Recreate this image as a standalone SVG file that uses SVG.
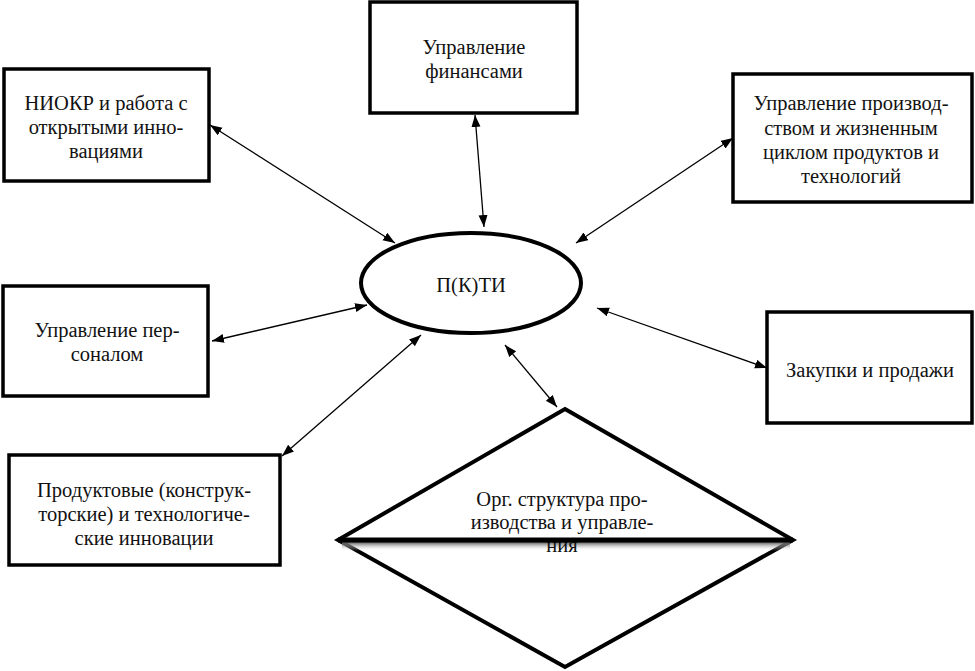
<svg xmlns="http://www.w3.org/2000/svg" width="975" height="671" viewBox="0 0 975 671">
<style>
.box{fill:#fff;stroke:#000;stroke-width:3.5}
.shape{fill:#fff;stroke:#000;stroke-width:4}
.t{font-family:"Liberation Serif","Times New Roman","DejaVu Serif",serif;font-size:20.5px;fill:#111;text-anchor:middle}
.con{stroke:#000;stroke-width:1.3;fill:none;marker-start:url(#ah);marker-end:url(#ah)}
</style>
<defs>
<marker id="ah" markerUnits="userSpaceOnUse" markerWidth="13" markerHeight="10" refX="12" refY="4.5" orient="auto-start-reverse" viewBox="0 0 13 10">
<path d="M0,0 L12,4.5 L0,9 z" fill="#000"/>
</marker>
<linearGradient id="sh" x1="0" y1="0" x2="0" y2="1">
<stop offset="0" stop-color="#555"/>
<stop offset="1" stop-color="#fff" stop-opacity="0"/>
</linearGradient>
</defs>

<g id="niokr">
<rect class="box" x="4" y="69" width="205" height="112"/>
<text class="t" x="106" y="110">НИОКР и работа с</text>
<text class="t" x="106" y="134">открытыми инно-</text>
<text class="t" x="106" y="158">вациями</text>
</g>

<g id="finance">
<rect class="box" x="370" y="2" width="207" height="111"/>
<text class="t" x="474" y="54">Управление</text>
<text class="t" x="474" y="78">финансами</text>
</g>

<g id="production">
<rect class="box" x="733" y="74" width="239" height="128"/>
<text class="t" x="851" y="110">Управление производ-</text>
<text class="t" x="851" y="135">ством и жизненным</text>
<text class="t" x="851" y="159">циклом продуктов и</text>
<text class="t" x="851" y="183">технологий</text>
</g>

<g id="personnel">
<rect class="box" x="3" y="286" width="205" height="110"/>
<text class="t" x="107" y="337">Управление пер-</text>
<text class="t" x="107" y="361">соналом</text>
</g>

<g id="products">
<rect class="box" x="9" y="455" width="271" height="110"/>
<text class="t" x="144" y="497">Продуктовые (конструк-</text>
<text class="t" x="144" y="521">торские) и технологиче-</text>
<text class="t" x="144" y="545">ские инновации</text>
</g>

<g id="purchases">
<rect class="box" x="767" y="312" width="205" height="111"/>
<text class="t" x="870" y="377">Закупки и продажи</text>
</g>

<g id="center">
<ellipse class="shape" cx="471" cy="283" rx="110" ry="50"/>
<text class="t" x="471" y="292">П(К)ТИ</text>
</g>

<g id="orgstructure">
<polygon class="shape" points="565,409 793,540 565,667 338,540"/>
<rect x="342" y="542" width="448" height="9" fill="url(#sh)"/>
<text class="t" x="562" y="506">Орг. структура про-</text>
<text class="t" x="562" y="529">изводства и управле-</text>
<text class="t" x="562" y="552">ния</text>
<line x1="338" y1="540" x2="793" y2="540" stroke="#000" stroke-width="5"/>
</g>

<g id="connectors">
<line class="con" x1="210" y1="125" x2="395" y2="243"/>
<line class="con" x1="475" y1="115" x2="484" y2="227"/>
<line class="con" x1="733" y1="138" x2="576" y2="243"/>
<line class="con" x1="212" y1="341" x2="367" y2="305"/>
<line class="con" x1="421" y1="335" x2="282" y2="456"/>
<line class="con" x1="597" y1="308" x2="767" y2="368"/>
<line class="con" x1="505" y1="345" x2="557" y2="407"/>
</g>
</svg>
